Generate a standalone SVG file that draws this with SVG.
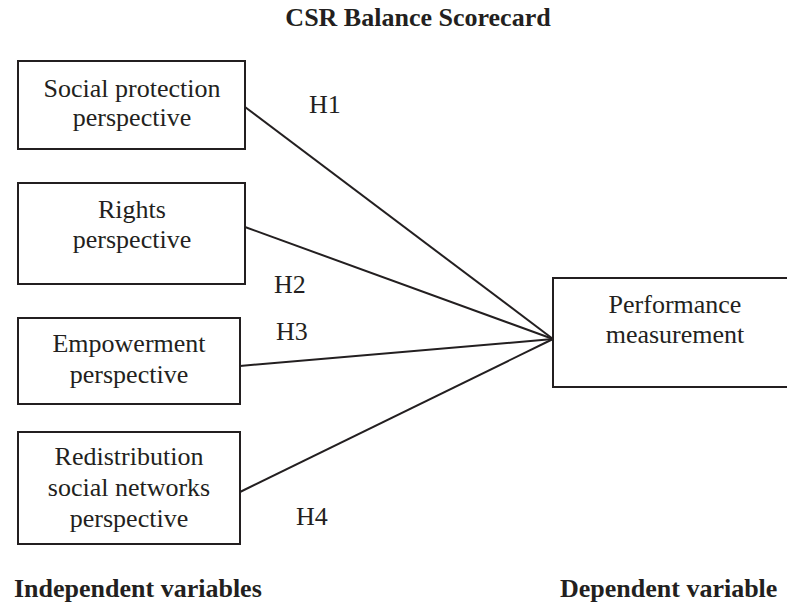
<svg xmlns="http://www.w3.org/2000/svg" width="787" height="605" viewBox="0 0 787 605">
<style>
.box{fill:#fff;stroke:#231f20;stroke-width:2}
.t{font-family:"Liberation Serif","Times New Roman",serif;font-size:26px;fill:#231f20;text-anchor:middle}
.b{font-family:"Liberation Serif","Times New Roman",serif;font-size:26px;font-weight:bold;fill:#231f20}
.lbl{font-family:"Liberation Serif","Times New Roman",serif;font-size:26px;fill:#231f20}
.c{stroke:#231f20;stroke-width:2;fill:none}
</style>
<rect width="787" height="605" fill="#fff"/>
<text class="b" x="418" y="26" text-anchor="middle">CSR Balance Scorecard</text>
<g id="connectors">
<line class="c" x1="245" y1="107" x2="553" y2="339"/>
<line class="c" x1="245" y1="227" x2="553" y2="339"/>
<line class="c" x1="240" y1="366" x2="553" y2="339"/>
<line class="c" x1="240" y1="492" x2="553" y2="339"/>
<text class="lbl" x="309" y="113">H1</text>
<text class="lbl" x="274" y="293">H2</text>
<text class="lbl" x="276" y="340">H3</text>
<text class="lbl" x="296" y="525">H4</text>
</g>
<g id="social">
<rect class="box" x="18" y="61" width="227" height="88"/>
<text class="t" x="132" y="97">Social protection</text>
<text class="t" x="132" y="126">perspective</text>
</g>
<g id="rights">
<rect class="box" x="18" y="183" width="227" height="101"/>
<text class="t" x="132" y="218">Rights</text>
<text class="t" x="132" y="248">perspective</text>
</g>
<g id="empowerment">
<rect class="box" x="18" y="318" width="222" height="86"/>
<text class="t" x="129" y="352">Empowerment</text>
<text class="t" x="129" y="383">perspective</text>
</g>
<g id="redistribution">
<rect class="box" x="18" y="432" width="222" height="112"/>
<text class="t" x="129" y="465">Redistribution</text>
<text class="t" x="129" y="496">social networks</text>
<text class="t" x="129" y="527">perspective</text>
</g>
<g id="performance">
<rect class="box" x="553" y="278" width="244" height="109"/>
<text class="t" x="675" y="313">Performance</text>
<text class="t" x="675" y="343">measurement</text>
</g>
<text class="b" x="14" y="597">Independent variables</text>
<text class="b" x="560" y="597">Dependent variable</text>
</svg>
